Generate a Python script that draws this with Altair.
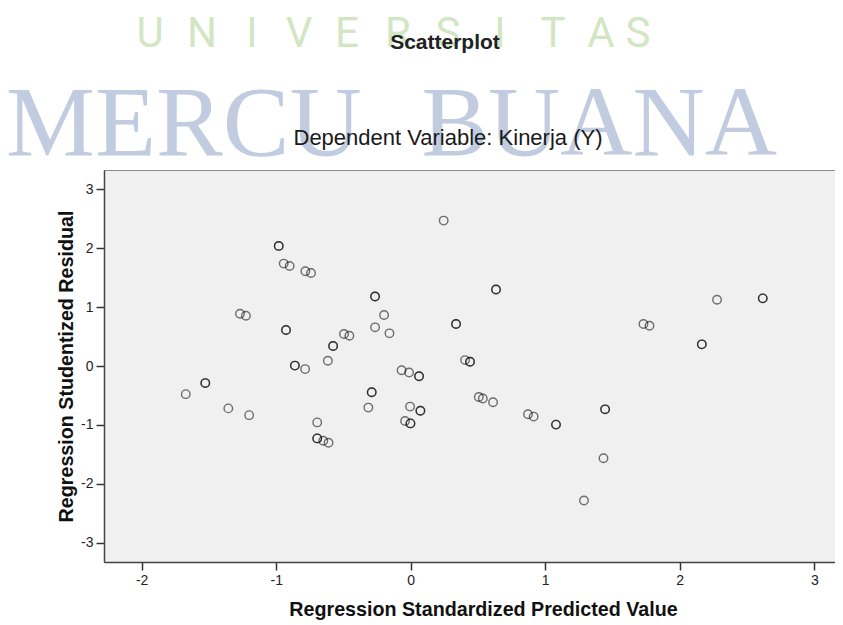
import altair as alt
import pandas as pd

# Regression Standardized Predicted Value (x) and Studentized Residual (y)
pred = [-0.981, -0.981, -0.944, -0.900, -0.783, -0.741, -1.269, -1.225, -0.927, -0.927,
        -0.577, -0.577, -0.861, -0.861, -0.785, -0.616, -1.672, -1.527, -1.527, -1.356,
        -1.201, -0.695, -0.695, -0.695, -0.650, -0.611, 0.245, -0.265, -0.265, -0.198,
        -0.265, -0.158, -0.496, -0.456, 0.337, 0.337, 0.634, 0.634, 0.404, 0.441,
        0.441, -0.068, -0.012, 0.062, 0.062, -0.290, -0.290, -0.315, -0.005, 0.072,
        0.072, -0.042, -0.002, -0.002, 0.506, 0.536, 0.612, 0.872, 0.914, 1.080,
        1.080, 1.445, 1.445, 1.433, 1.288, 1.730, 1.775, 2.277, 2.617, 2.617,
        2.164, 2.164]
resid = [2.04, 2.04, 1.74, 1.70, 1.61, 1.58, 0.888, 0.854, 0.611, 0.611,
         0.34, 0.34, 0.007, 0.007, -0.053, 0.09, -0.478, -0.29, -0.29, -0.72,
         -0.835, -0.958, -1.23, -1.23, -1.27, -1.305, 2.47, 1.18, 1.18, 0.866,
         0.657, 0.555, 0.543, 0.515, 0.713, 0.713, 1.30, 1.30, 0.10, 0.073,
         0.073, -0.073, -0.11, -0.175, -0.175, -0.447, -0.447, -0.707, -0.69, -0.76,
         -0.76, -0.934, -0.975, -0.975, -0.526, -0.553, -0.617, -0.82, -0.86, -0.996,
         -0.996, -0.736, -0.736, -1.567, -2.286, 0.713, 0.684, 1.126, 1.149, 1.149,
         0.368, 0.368]

x_ticks = [-2, -1, 0, 1, 2, 3]
y_ticks = [-3, -2, -1, 0, 1, 2, 3]

title_text = "Scatterplot"
subtitle_text = "Dependent Variable: Kinerja (Y)"
x_title = "Regression Standardized Predicted Value"
y_title = "Regression Studentized Residual"

wm_letters = ["U", "N", "I", "V", "E", "R", "S", "I", "T", "A", "S"]
wm_letter_x = [150, 202, 252, 299, 347, 398, 448, 500, 553, 601, 638]

df = pd.DataFrame({"x": pred, "y": resid})

W, H = 731, 392
X0, Y0 = 104, 170  # page position of plot origin

SANS = "Liberation Sans, Arial, Helvetica, sans-serif"

points = alt.Chart(df).mark_point(
    shape="circle", filled=False, size=72, stroke="#000000",
    strokeOpacity=0.78, strokeWidth=1.4
).encode(
    x=alt.X("x:Q", scale=alt.Scale(domain=[-2.28, 3.154], nice=False, zero=False),
            axis=alt.Axis(values=x_ticks, title=x_title, titleX=379, titleY=53,
                          titleAlign="center", titleBaseline="alphabetic",
                          labelExpr="'' + datum.value")),
    y=alt.Y("y:Q", scale=alt.Scale(domain=[-3.33, 3.33], nice=False, zero=False),
            axis=alt.Axis(values=y_ticks, title=y_title, titleX=-32, titleY=196,
                          titleAlign="center", titleBaseline="alphabetic", titleAngle=-90,
                          labelExpr="'' + datum.value")),
)

base = alt.Chart(pd.DataFrame({"a": [0]}))

layers = []
# watermark
for letter, px in zip(wm_letters, wm_letter_x):
    layers.append(base.mark_text(
        text=letter, font="Roboto", fontWeight=400, fontSize=42, color="#d3e6c3",
        align="center", baseline="alphabetic"
    ).encode(x=alt.value(px - X0), y=alt.value(47 - Y0)))
layers.append(base.mark_text(
    text="MERCU", font="Liberation Serif, Times New Roman, serif", fontSize=100,
    color="#c2cce0", align="left", baseline="alphabetic"
).encode(x=alt.value(6 - X0), y=alt.value(155 - Y0)))
layers.append(base.mark_text(
    text="BUANA", font="Liberation Serif, Times New Roman, serif", fontSize=100,
    color="#c2cce0", align="right", baseline="alphabetic"
).encode(x=alt.value(777 - X0), y=alt.value(155 - Y0)))
# titles
layers.append(base.mark_text(
    text=title_text, font=SANS, fontWeight="bold", fontSize=21, color="#222222",
    align="center", baseline="alphabetic"
).encode(x=alt.value(445 - X0), y=alt.value(49 - Y0)))
layers.append(base.mark_text(
    text=subtitle_text, font=SANS, fontSize=22, color="#1a1a1a",
    align="center", baseline="alphabetic"
).encode(x=alt.value(448 - X0), y=alt.value(145 - Y0)))

chart = alt.layer(*layers, points).properties(
    width=W, height=H,
    background="white",
    autosize=alt.AutoSizeParams(type="none"),
    padding={"left": X0 - 8, "top": Y0 - 8, "right": 0, "bottom": 62},
).configure_view(
    fill="#f0f0f0", stroke="#8a8a8a", strokeWidth=1
).configure_axis(
    grid=False,
    labelFont=SANS, labelFontSize=14, labelColor="#222222", labelPadding=3,
    tickColor="#333333", tickSize=8, tickWidth=1.5,
    domainColor="#444444", domainWidth=1.5,
    titleFont=SANS, titleFontWeight="bold", titleFontSize=19.7, titleColor="#111111",
)

chart.save("out.html", embed_options={"renderer": "svg", "actions": False})
